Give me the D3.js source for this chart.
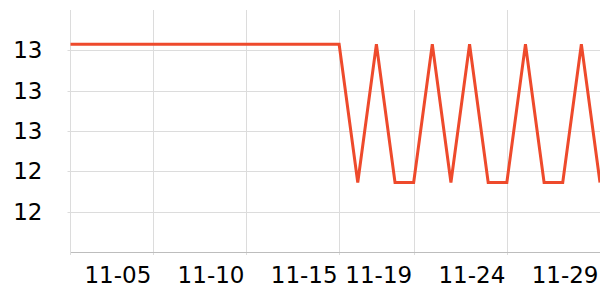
<!DOCTYPE html>
<html>
<head>
<meta charset="utf-8">
<script src="https://cdn.jsdelivr.net/npm/d3@7"></script>
<style>
  html, body { margin: 0; padding: 0; background: #fff; }
  svg { display: block; font-family: "DejaVu Sans", sans-serif; }
</style>
</head>
<body>
<svg id="chart" width="600" height="300"></svg>
<script>
// data
const dates = [
  '2020-10-31T14:00', '2020-11-01', '2020-11-02', '2020-11-03', '2020-11-04', '2020-11-05',
  '2020-11-06', '2020-11-07', '2020-11-08', '2020-11-09', '2020-11-10', '2020-11-11',
  '2020-11-12', '2020-11-13', '2020-11-14', '2020-11-15', '2020-11-16', '2020-11-17',
  '2020-11-18', '2020-11-19', '2020-11-20', '2020-11-21', '2020-11-22', '2020-11-23',
  '2020-11-24', '2020-11-25', '2020-11-26', '2020-11-27', '2020-11-28', '2020-11-29'
]
const values = [
  13.03, 13.03, 13.03, 13.03, 13.03, 13.03,
  13.03, 13.03, 13.03, 13.03, 13.03, 13.03,
  13.03, 13.03, 13.03, 13.03, 12.345, 13.03,
  12.345, 12.345, 13.03, 12.345, 13.03, 12.345,
  12.345, 13.03, 12.345, 12.345, 13.03, 12.345
]
const xTicks = ['2020-11-05', '2020-11-10', '2020-11-15', '2020-11-19', '2020-11-24', '2020-11-29']
const yTicks = [12.2, 12.4, 12.6, 12.8, 13.0]
const yDomain = [12, 13.2]

const parse = s => new Date(s.length > 10 ? s : s + 'T00:00')

const width = 600, height = 300
const margin = { top: 10, right: 0, bottom: 48, left: 70.5 }

const svg = d3.select('#chart')

const data = dates.map((d, i) => ({ date: parse(d), value: values[i] }))

let x = d3.scaleTime()
  .domain(d3.extent(data, d => d.date))
  .range([margin.left, width - margin.right])

let y = d3.scaleLinear()
  .domain(yDomain)
  .range([height - margin.bottom, margin.top])

// horizontal grid
svg.append('g')
  .selectAll('line')
  .data(yTicks)
  .join('line')
  .attr('x1', margin.left - 3)
  .attr('x2', width - margin.right)
  .attr('y1', d => Math.round(y(d)) + 0.5)
  .attr('y2', d => Math.round(y(d)) + 0.5)
  .attr('stroke', '#dcdcdc')

// vertical grid
svg.append('g')
  .selectAll('line')
  .data(xTicks.map(parse))
  .join('line')
  .attr('x1', d => Math.round(x(d)) + 0.5)
  .attr('x2', d => Math.round(x(d)) + 0.5)
  .attr('y1', margin.top)
  .attr('y2', height - margin.bottom + 3)
  .attr('stroke', '#dcdcdc')

// left axis line
svg.append('line')
  .attr('x1', margin.left).attr('x2', margin.left)
  .attr('y1', margin.top).attr('y2', height - margin.bottom + 3)
  .attr('stroke', '#dcdcdc')

// bottom axis
let xAxis = svg.append('g')
  .attr('transform', `translate(0,${height - margin.bottom})`)
  .call(d3.axisBottom(x)
    .tickValues(xTicks.map(parse))
    .tickFormat(d3.timeFormat('%m-%d'))
    .tickSize(0)
    .tickPadding(0))

xAxis.select('.domain').attr('stroke', '#bdbdbd')
xAxis.selectAll('text')
  .attr('text-anchor', 'end')
  .attr('dx', -2)
  .attr('dy', 0)
  .attr('y', 31)
  .attr('fill', '#000')
  .style('font-size', '23px')
  .style('font-family', '"DejaVu Sans", sans-serif')

// left axis labels
let yAxis = svg.append('g')
  .attr('transform', `translate(${margin.left},0)`)
  .call(d3.axisLeft(y)
    .tickValues(yTicks)
    .tickFormat(d3.format('.0f'))
    .tickSize(0)
    .tickPadding(28))

yAxis.select('.domain').remove()
yAxis.selectAll('text')
  .attr('fill', '#000')
  .style('font-size', '23px')
  .style('font-family', '"DejaVu Sans", sans-serif')

// line
let line = d3.line()
  .x(d => x(d.date))
  .y(d => y(d.value))

svg.append('path')
  .datum(data)
  .attr('d', line)
  .attr('fill', 'none')
  .attr('stroke', '#ee4a2c')
  .attr('stroke-width', 3)
  .attr('stroke-linejoin', 'miter')
</script>
</body>
</html>
